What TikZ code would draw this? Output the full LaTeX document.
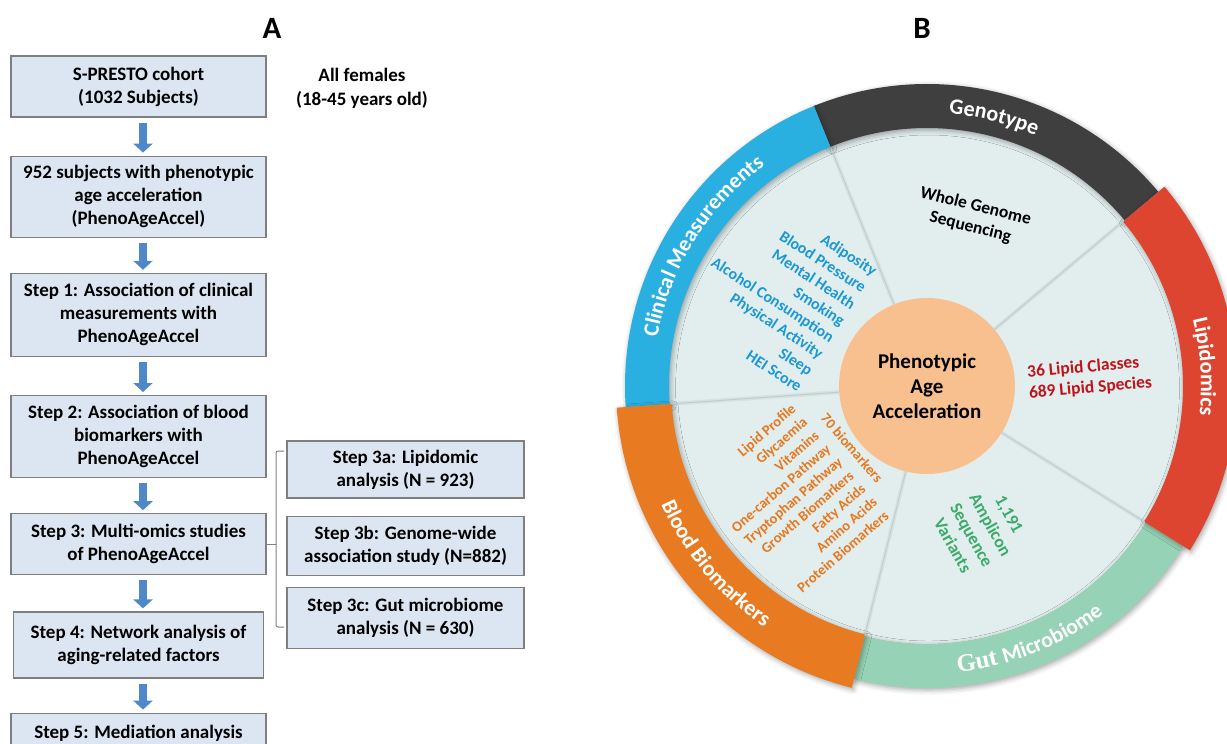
\documentclass[tikz,border=0pt]{standalone}
\usepackage{fontspec}
\setmainfont{Carlito}
\newfontfamily\gutserif{Liberation Serif}
\usetikzlibrary{arrows.meta,positioning,decorations.text,shadows.blur}

\definecolor{boxfill}{HTML}{DCE6F2}
\definecolor{boxline}{HTML}{7F7F7F}
\definecolor{arrblue}{HTML}{4F88C8}
\definecolor{paledisk}{HTML}{E2EEEE}
\definecolor{sectline}{HTML}{BDCDCF}
\definecolor{coreorange}{HTML}{F9C08F}
\definecolor{clinblue}{HTML}{29AFE0}
\definecolor{clintext}{HTML}{1C98D5}
\definecolor{genogray}{HTML}{3F3F3F}
\definecolor{lipidred}{HTML}{DD4531}
\definecolor{lipidtext}{HTML}{C0141C}
\definecolor{gutgreen}{HTML}{96D2B5}
\definecolor{guttext}{HTML}{3BAA6B}
\definecolor{bloodorange}{HTML}{E87A22}
\definecolor{bloodtext}{HTML}{E8781F}

\newcommand{\bandfont}{\fontsize{22}{22}\selectfont\bfseries}
\newcommand{\gutfont}{\fontsize{25}{25}\selectfont\gutserif\bfseries}
% one coloured piece of the outer ring: colour, from, to, inner, outer
\newcommand{\omicband}[5]{%
  \fill[#1,bandshadow] (#2:#4) arc[start angle=#2,end angle=#3,radius=#4]
    -- (#3:#5) arc[start angle=#3,end angle=#2,radius=#5] -- cycle;}

\begin{document}
\begin{tikzpicture}[x=1pt,y=1pt,
    box/.style={draw=boxline,line width=1.2pt,fill=boxfill,minimum width=255pt,align=center,
      inner sep=2pt,font=\fontsize{19}{23}\selectfont\bfseries},
    flowarr/.style={-{Triangle[width=19pt,length=9pt]},line width=8pt,arrblue,shorten <=5pt,shorten >=3pt},
    bracket/.style={draw=boxline,line width=1pt,rounded corners=2pt},
    bandshadow/.style={blur shadow={shadow xshift=1.5pt,shadow yshift=-2pt,shadow blur radius=5pt,shadow opacity=35}},
    bandlabel/.style={decorate,decoration={text along path,text align=center,text color=white,text={|\bandfont|#1}}},
    items/.style={inner sep=0pt,font=\fontsize{16}{19.7}\selectfont\bfseries}]
  \useasboundingbox (0,0) rectangle (1227,-744);

  % panel A
  \node[font=\fontsize{31}{31}\selectfont\bfseries] (labA) at (272,-28) {A};
  \node[box,minimum height=61pt] (cohort) at (138.5,-86.5) {S-PRESTO cohort\\(1032 Subjects)};
  \node[font=\fontsize{19}{24}\selectfont\bfseries,align=center] (females) at (362,-88) {All females\\(18-45 years old)};
  \node[box,minimum height=81pt,below=38pt of cohort] (pheno) {952 subjects with phenotypic\\age acceleration\\(PhenoAgeAccel)};
  \node[box,minimum height=83pt,below=35pt of pheno] (step1) {Step 1: Association of clinical\\measurements with\\PhenoAgeAccel};
  \node[box,minimum height=82pt,below=38pt of step1] (step2) {Step 2: Association of blood\\biomarkers with\\PhenoAgeAccel};
  \node[box,minimum height=61pt,below=35pt of step2] (step3) {Step 3: Multi-omics studies\\of PhenoAgeAccel};
  \node[box,minimum width=250pt,minimum height=66pt,below=36pt of step3] (step4) {Step 4: Network analysis of\\aging-related factors};
  \node[box,minimum height=40pt,below=34pt of step4] (step5) {Step 5: Mediation analysis};

  \node[box,minimum width=237pt,minimum height=57pt] (lipid3a) at (405.5,-469.5) {Step 3a: Lipidomic\\analysis (N = 923)};
  \node[box,minimum width=237pt,minimum height=59pt,below=17pt of lipid3a] (gwas3b) {Step 3b: Genome-wide\\association study (N=882)};
  \node[box,minimum width=237pt,minimum height=61pt,below=11pt of gwas3b] (gut3c) {Step 3c: Gut microbiome\\analysis (N = 630)};

  \coordinate (ax) at (143,0);
  \foreach \a/\b in {cohort/pheno,pheno/step1,step1/step2,step2/step3,step3/step4,step4/step5}
    \draw[flowarr] (\a.south -| ax) -- (\b.north -| ax);

  \coordinate (brtop) at (284,-451);
  \coordinate (brbot) at (284,-627);
  \coordinate (brx) at (276,0);
  \draw[bracket] (brtop) -- (brtop -| brx) -- (brbot -| brx) -- (brbot);
  \draw[bracket] (step3.east) -- (step3.east -| brx);

  % panel B
  \node[font=\fontsize{31}{31}\selectfont\bfseries] (labB) at (922,-28) {B};
  \coordinate (ctr) at (927,-386);
  \begin{scope}[shift={(ctr)}]
    \fill[paledisk,bandshadow] (0,0) circle (258);
    \omicband{genogray}{40}{112}{258}{302}
    \omicband{clinblue}{112}{184}{258}{302}
    \omicband{gutgreen}{256}{328}{258}{302}
    \omicband{lipidred}{-32}{40}{256}{310}
    \omicband{bloodorange}{184}{256}{256}{311}
    \foreach \a in {40,112,184,256,328} {
      \draw[line width=4pt,black,opacity=0.05] (\a:88) -- (\a:257);
      \draw[sectline,line width=0.9pt] (\a:88) -- (\a:257);
    }
    \path[bandlabel=Genotype] (112:273) arc[start angle=112,end angle=40,radius=273];
    \path[bandlabel=Clinical Measurements] (184:274) arc[start angle=184,end angle=112,radius=274];
    \path[bandlabel=Lipidomics] (40:274) arc[start angle=40,end angle=-32,radius=274];
    \path[bandlabel=Blood Biomarkers] (184:291) arc[start angle=184,end angle=256,radius=291];
    \path[decorate,decoration={text along path,text align=center,text color=white,
      text={|\gutfont|Gut |\bandfont|Microbiome}}] (256:288) arc[start angle=256,end angle=328,radius=288];
  \end{scope}

  \node[circle,fill=coreorange,minimum size=176pt,align=center,
    font=\fontsize{21}{25}\selectfont\bfseries] (core) at (ctr) {Phenotypic\\Age\\Acceleration};

  \node[items,text=clintext,rotate=-33,anchor=east,align=right] (clinitems) at (838,-330)
    {Adiposity\\Blood Pressure\\Mental Health\\Smoking\\Alcohol Consumption\\Physical Activity\\Sleep\\HEI Score};
  \node[items,text=bloodtext,rotate=41,anchor=east,align=right,font=\fontsize{14.5}{17.7}\selectfont\bfseries] (blooditems) at (840,-460)
    {Lipid Profile\\Glycaemia\\Vitamins\\One-carbon Pathway\\Tryptophan Pathway\\Growth Biomarkers\\Fatty Acids\\Amino Acids\\Protein Biomarkers};
  \node[items,text=bloodtext,rotate=-49,font=\fontsize{14.5}{17.7}\selectfont\bfseries] (bloodcount) at (852,-448) {70 biomarkers};
  \node[items,text=black,rotate=-14,align=center,font=\fontsize{17.5}{21.5}\selectfont\bfseries] (wgs) at (973,-217) {Whole Genome\\Sequencing};
  \node[items,text=lipidtext,rotate=5,anchor=west,align=left,font=\fontsize{17.5}{21}\selectfont\bfseries] (lipidcount) at (1028,-383) {36 Lipid Classes\\689 Lipid Species};
  \node[items,text=guttext,rotate=-61,align=center,font=\fontsize{17.5}{21.5}\selectfont\bfseries] (asv) at (981,-530) {1,191\\Amplicon\\Sequence\\Variants};
\end{tikzpicture}
\end{document}
